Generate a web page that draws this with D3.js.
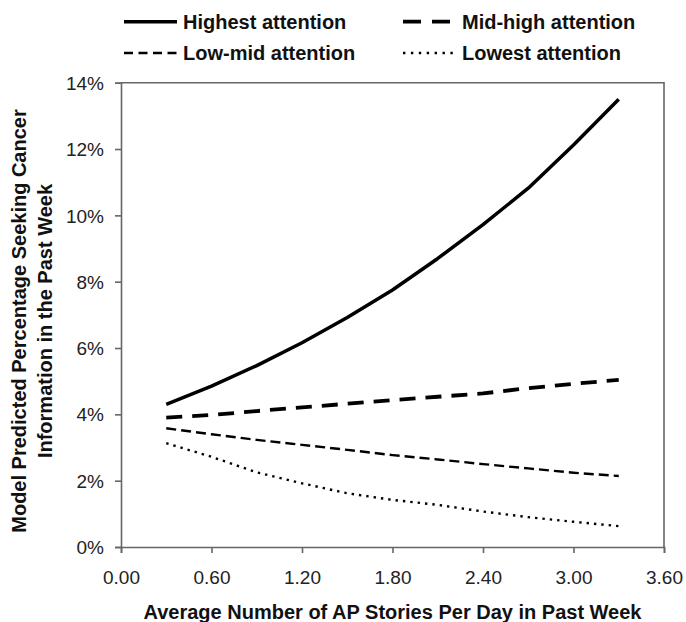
<!DOCTYPE html>
<html><head><meta charset="utf-8">
<script src="https://cdn.jsdelivr.net/npm/d3@7"></script>
<style>body{margin:0;background:#fff}svg{display:block}</style>
</head><body><svg id="c" width="686" height="622"></svg>
<script>
const xValues = [0.3, 0.6, 0.9, 1.2, 1.5, 1.8, 2.1, 2.4, 2.7, 3.0, 3.3];
const highest = [4.30, 4.85, 5.47, 6.16, 6.92, 7.75, 8.70, 9.72, 10.82, 12.12, 13.50];
const midHigh = [3.90, 3.98, 4.10, 4.21, 4.32, 4.43, 4.53, 4.63, 4.79, 4.92, 5.04];
const lowMid = [3.58, 3.40, 3.23, 3.08, 2.93, 2.77, 2.64, 2.50, 2.37, 2.24, 2.14];
const lowest = [3.13, 2.72, 2.25, 1.92, 1.62, 1.42, 1.27, 1.07, 0.90, 0.76, 0.63];
const seriesNames = ["Highest attention", "Mid-high attention", "Low-mid attention", "Lowest attention"];
const xTicks = [0, 0.6, 1.2, 1.8, 2.4, 3.0, 3.6];
const yTicks = [0, 2, 4, 6, 8, 10, 12, 14];
const xTitle = "Average Number of AP Stories Per Day in Past Week";
const yTitle = ["Model Predicted Percentage Seeking Cancer", "Information in the Past Week"];

const styles = [
  {w: 3.5, dash: null, legDash: null},
  {w: 3.8, dash: "16,10", legDash: "18,11"},
  {w: 2.4, dash: "10,5", legDash: "9,5.5"},
  {w: 2.4, dash: "2.4,5", legDash: "2.4,5.5"}
];
const series = [highest, midHigh, lowMid, lowest];

const svg = d3.select("#c");
const L = 121, R = 664, T = 82.7, B = 547;
const x = d3.scaleLinear().domain([0, 3.6]).range([L, R]);
const y = d3.scaleLinear().domain([0, 14]).range([B, T]);
const font = "'Liberation Sans', Arial, sans-serif";
const axisCol = "#666";

// frame (top & right)
svg.append("path").attr("d", `M${L},${T}H${R}V${B}`).attr("fill", "none").attr("stroke", axisCol).attr("stroke-width", 1.6);

const xa = svg.append("g").attr("transform", `translate(0,${B})`)
  .call(d3.axisBottom(x).tickValues(xTicks).tickSize(6).tickFormat(d3.format(".2f")));
const ya = svg.append("g").attr("transform", `translate(${L},0)`)
  .call(d3.axisLeft(y).tickValues(yTicks).tickSize(6).tickPadding(11).tickFormat(d => d + "%"));
[xa, ya].forEach(a => {
  a.select(".domain").attr("stroke", axisCol).attr("stroke-width", 1.6);
  a.selectAll(".tick line").attr("stroke", axisCol).attr("stroke-width", 1.6);
  a.selectAll("text").attr("font-family", font).attr("font-size", 19).attr("fill", "#222");
});
xa.selectAll("text").attr("y", 23.5).attr("dy", "0.71em");
ya.selectAll("text").attr("dy", "0.35em");

const line = d3.line().x((d, i) => x(xValues[i])).y(d => y(d));
series.forEach((s, k) => {
  svg.append("path").datum(s).attr("d", line).attr("fill", "none")
    .attr("stroke", "#000").attr("stroke-width", styles[k].w)
    .attr("stroke-dasharray", styles[k].dash)
    .attr("stroke-linejoin", "round");
});

// legend
const legPos = [[124, 21.7, 183], [403, 21.7, 462], [124, 53, 183], [403, 53, 462]];
seriesNames.forEach((n, k) => {
  const [lx, ly, tx] = legPos[k];
  svg.append("line").attr("x1", lx).attr("x2", lx + 53).attr("y1", ly).attr("y2", ly)
    .attr("stroke", "#000").attr("stroke-width", styles[k].w).attr("stroke-dasharray", styles[k].legDash);
  svg.append("text").attr("x", tx).attr("y", ly).attr("dy", "0.36em")
    .attr("font-family", font).attr("font-weight", "bold").attr("font-size", 20).attr("fill", "#111").text(n);
});

// axis titles
svg.append("text").attr("x", (L + R) / 2).attr("y", 612).attr("dy", "0.35em").attr("text-anchor", "middle")
  .attr("font-family", font).attr("font-weight", "bold").attr("font-size", 20).attr("fill", "#111").text(xTitle);
yTitle.forEach((t, i) => {
  svg.append("text").attr("transform", `translate(${19 + i * 26},${321}) rotate(-90)`)
    .attr("dy", "0.35em").attr("text-anchor", "middle")
    .attr("font-family", font).attr("font-weight", "bold").attr("font-size", 20).attr("fill", "#111").text(t);
});
</script></body></html>
